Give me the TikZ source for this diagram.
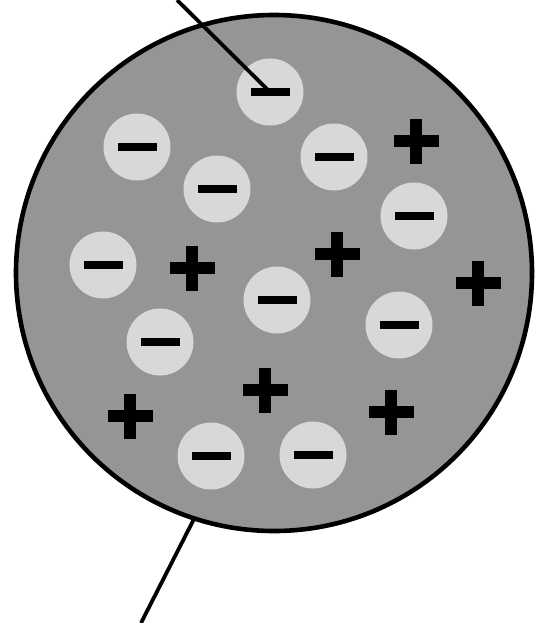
\documentclass[tikz,border=0pt]{standalone}
\definecolor{dropgray}{HTML}{959595}
\definecolor{elecgray}{HTML}{D8D8D8}
\newcommand{\minusglyph}{\rule[-4pt]{39pt}{8pt}}
\newcommand{\plusglyph}{\makebox[0pt]{\rule[-6pt]{45pt}{12pt}}\makebox[0pt]{\rule[-22.5pt]{12pt}{45pt}}}
\begin{document}
\begin{tikzpicture}[x=1pt,y=-1pt,
  drop/.style={circle,draw=black,line width=4.6pt,fill=dropgray,minimum size=516pt,inner sep=0pt,outer sep=0pt},
  electron/.style={circle,fill=elecgray,minimum size=67pt,inner sep=0pt,outer sep=0pt},
  proton/.style={inner sep=0pt,outer sep=0pt},
  wire/.style={line width=3.8pt,black}]
\fill[white] (0,0) rectangle (536,623);
\useasboundingbox (0,0) rectangle (536,623);
\node[drop] (drop) at (274,273) {};
% electrons
\node[electron] (e1) at (270,92) {\minusglyph};
\node[electron] (e2) at (137,147) {\minusglyph};
\node[electron] (e3) at (334,157) {\minusglyph};
\node[electron] (e4) at (217,189) {\minusglyph};
\node[electron] (e5) at (414,216) {\minusglyph};
\node[electron] (e6) at (103,265) {\minusglyph};
\node[electron] (e7) at (277,300) {\minusglyph};
\node[electron] (e8) at (399,325) {\minusglyph};
\node[electron] (e9) at (160,342) {\minusglyph};
\node[electron] (e10) at (211,456) {\minusglyph};
\node[electron] (e11) at (313,455) {\minusglyph};
% positive charges
\node[proton] (p1) at (416,141) {\plusglyph};
\node[proton] (p2) at (192,268) {\plusglyph};
\node[proton] (p3) at (337,254) {\plusglyph};
\node[proton] (p4) at (478,283) {\plusglyph};
\node[proton] (p5) at (265,390) {\plusglyph};
\node[proton] (p6) at (130,416) {\plusglyph};
\node[proton] (p7) at (391,412) {\plusglyph};
% wires
\coordinate (topend) at (177,0);
\coordinate (botend) at (141,623);
\draw[wire] (topend) -- (e1.center);
\draw[wire] (drop.252.5) -- (botend);
\end{tikzpicture}
\end{document}
